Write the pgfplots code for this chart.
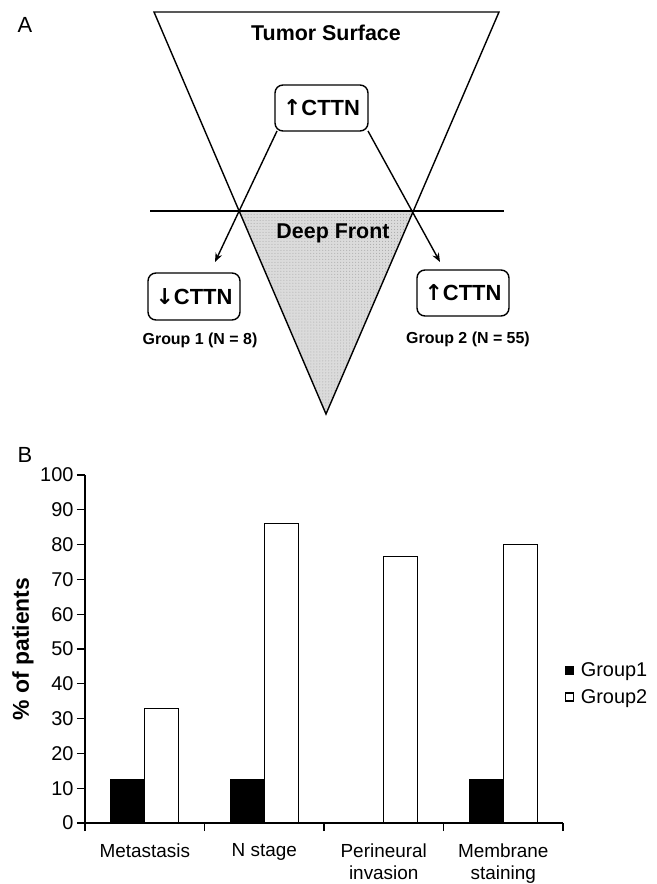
\documentclass[border=0pt]{standalone}
\usepackage{fontspec}
\setmainfont{Liberation Sans}
\newfontfamily\arr{DejaVu Sans}
\usepackage{pgfplots}
\pgfplotsset{compat=1.18}
\usetikzlibrary{arrows.meta,patterns}
\pgfplotsset{sqlegend/.style={legend image code/.code={\draw[##1,line width=1.2bp] (0bp,-4bp) rectangle (8bp,4bp); \path[draw=none,fill=none] (0bp,0bp) (13bp,0bp);}}}
\begin{document}
\begin{tikzpicture}[x=1bp,y=1bp]
\path[use as bounding box] (0,0) rectangle (657,-884);
% ---------- Panel A ----------
\node[anchor=center,font=\fontsize{22}{24}\selectfont] at (25,-25) {A};
\fill[gray!28] (239,-211) -- (413,-211) -- (326,-414) -- cycle;
\fill[pattern=dots,pattern color=gray!70] (239,-211) -- (413,-211) -- (326,-414) -- cycle;
\draw[line width=1.4bp,line join=miter] (154,-12) -- (499,-12) -- (326,-414) -- cycle;
\draw[line width=1.4bp] (150,-211) -- (504,-211);
\node[font=\fontsize{21.5}{23}\selectfont\bfseries] at (326,-33) {Tumor Surface};
\node[font=\fontsize{21.5}{23}\selectfont\bfseries] at (333,-233) {Deep Front};
\draw[line width=1.4bp,rounded corners=8bp] (275,-85) rectangle (368,-131);
\node[font=\fontsize{22}{23}\selectfont\bfseries] at (321.5,-108) {{\arr\bfseries ↑}CTTN};
\draw[line width=1.4bp,rounded corners=8bp] (148,-273) rectangle (240,-320);
\node[font=\fontsize{22}{23}\selectfont\bfseries] at (194,-296.5) {{\arr\bfseries ↓}CTTN};
\draw[line width=1.4bp,rounded corners=8bp] (417,-270) rectangle (509,-316);
\node[font=\fontsize{22}{23}\selectfont\bfseries] at (463,-293) {{\arr\bfseries ↑}CTTN};
\draw[line width=1.4bp,-{Stealth[length=9bp,width=7bp]}] (277,-131) -- (215,-262);
\draw[line width=1.4bp,-{Stealth[length=9bp,width=7bp]}] (368,-131) -- (440,-262);
\node[font=\fontsize{16}{18}\selectfont\bfseries] at (200,-340) {Group 1 (N = 8)};
\node[font=\fontsize{16}{18}\selectfont\bfseries] at (468,-339) {Group 2 (N = 55)};
% ---------- Panel B ----------
\node[anchor=center,font=\fontsize{22}{24}\selectfont] at (25,-455) {B};
\begin{axis}[
  at={(85bp,-823bp)}, anchor=south west,
  scale only axis, width=478bp, height=348bp,
  xmin=-0.5, xmax=3.5, ymin=0, ymax=100,
  axis x line*=bottom, axis y line*=left,
  axis line style={line width=1.3bp,-},
  tick align=outside,
  major tick length=8bp,
  tick style={line width=1.3bp,black},
  ytick={0,10,...,100},
  yticklabel style={font=\fontsize{20}{21}\selectfont},
  /pgf/number format/assume math mode=true,
  xtick={-0.5,0.5,1.5,2.5,3.5},
  xticklabels={},
  extra x ticks={0,1,2,3},
  extra x tick labels={Metastasis, N stage, Perineural\\invasion, Membrane\\staining},
  extra x tick style={major tick length=0pt,
    xticklabel style={align=center,font=\fontsize{19}{22}\selectfont,anchor=north,yshift=-17bp}},
  ylabel={\% of patients},
  every axis y label/.style={at={(axis description cs:-0.13,0.5)},rotate=90,anchor=center,
    font=\fontsize{23}{25}\selectfont\bfseries},
  ybar=0pt, bar width=34bp,
  legend style={at={(axis description cs:1.0,0.40)},anchor=west,draw=none,fill=none,
    font=\fontsize{20}{21}\selectfont,row sep=7bp,inner sep=2bp},
  legend cell align=left,
]
\addplot[fill=black,draw=black,line width=1.3bp,sqlegend]
  coordinates {(0,12.5) (1,12.5) (2,0) (3,12.5)};
\addplot[fill=white,draw=black,line width=1.3bp,sqlegend]
  coordinates {(0,33) (1,86) (2,76.5) (3,80)};
\legend{Group1,Group2}
\end{axis}
\end{tikzpicture}
\end{document}
